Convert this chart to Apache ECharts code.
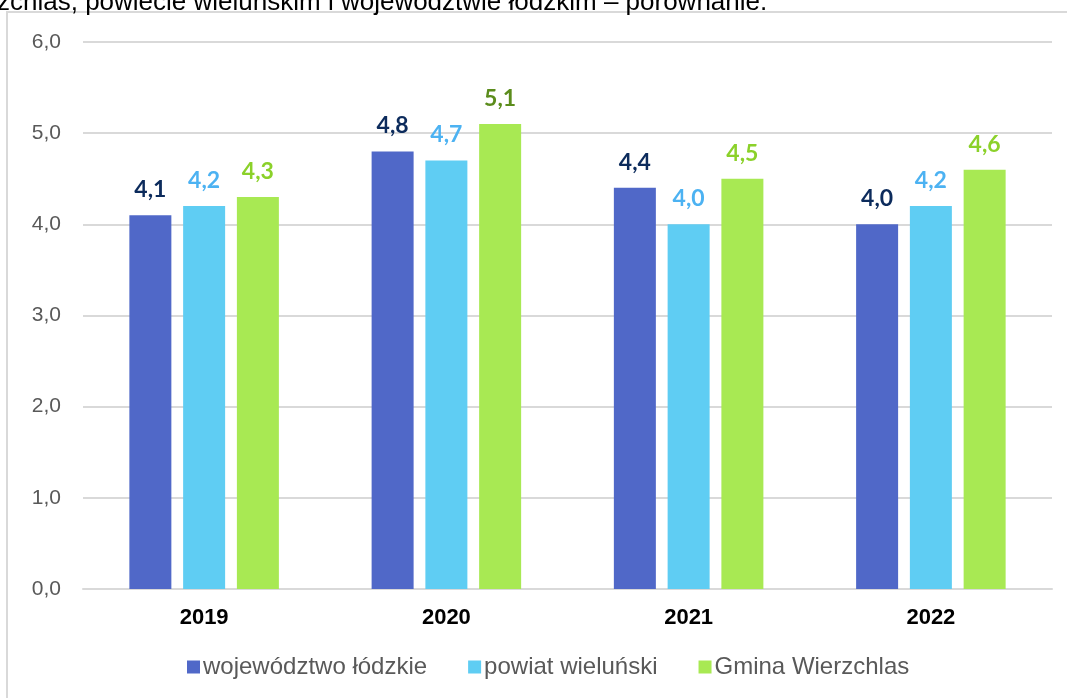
<!DOCTYPE html>
<html>
<head>
<meta charset="utf-8">
<script src="https://cdn.jsdelivr.net/npm/echarts@6/dist/echarts.min.js"></script>
<style>html,body{margin:0;padding:0;background:#fff;}#c{width:1067px;height:698px;}</style>
</head>
<body>
<div id="c"></div>
<script>
const caption = 'zchlas, powiecie wieluńskim i województwie łódzkim – porównanie.';
const categories = ['2019', '2020', '2021', '2022'];
const seriesNames = ['województwo łódzkie', 'powiat wieluński', 'Gmina Wierzchlas'];
const wojewodztwo = [4.1, 4.8, 4.4, 4.0];
const powiat = [4.2, 4.7, 4.0, 4.2];
const gmina = [4.3, 5.1, 4.5, 4.6];
const yTicks = [0, 1, 2, 3, 4, 5, 6];

const barColors = ['#5068c8', '#5fcdf3', '#a8e953'];
const labelColors = [
  ['#0c2b5c', '#0c2b5c', '#0c2b5c', '#0c2b5c'],
  ['#4cb2f2', '#4cb2f2', '#4cb2f2', '#4cb2f2'],
  ['#8bd12a', '#5b8c1c', '#8bd12a', '#8bd12a']
];
const values = [wojewodztwo, powiat, gmina];

const fmt = v => v.toFixed(1).replace('.', ',');

const chart = echarts.init(document.getElementById('c'));
chart.setOption({
  animation: false,
  backgroundColor: '#fff',
  graphic: [
    { type: 'rect', shape: { x: 7, y: 12, width: 1100, height: 720 }, style: { fill: 'none', stroke: '#d9d9d9', lineWidth: 2 } },
    { type: 'text', x: -3, y: 16, z: 10, style: { text: caption, font: '26px "Liberation Sans", Arial, sans-serif', fill: '#000', verticalAlign: 'bottom' } }
  ],
  grid: { left: 83, right: 15, top: 42, bottom: 109, containLabel: false },
  legend: {
    bottom: 14, left: 182,
    itemWidth: 13, itemHeight: 13, itemGap: 41, icon: 'rect',
    textStyle: { fontFamily: '"Liberation Sans", Arial, sans-serif', fontSize: 24, color: '#595959', padding: [0, 0, 0, -2] },
    data: seriesNames
  },
  xAxis: {
    type: 'category', data: categories,
    axisLine: { lineStyle: { color: '#d9d9d9', width: 2 } },
    axisTick: { show: false },
    axisLabel: { fontFamily: '"Liberation Sans", Arial, sans-serif', fontWeight: 'bold', fontSize: 22, color: '#000', margin: 18 }
  },
  yAxis: {
    type: 'value', min: yTicks[0], max: yTicks[yTicks.length - 1], interval: 1,
    axisLine: { show: false }, axisTick: { show: false },
    splitLine: { lineStyle: { color: '#d9d9d9', width: 2 } },
    axisLabel: { formatter: v => fmt(v), fontFamily: '"Liberation Sans", Arial, sans-serif', fontSize: 21, color: '#595959', margin: 22 }
  },
  series: seriesNames.map((name, i) => ({
    name, type: 'bar', barWidth: 42, barGap: '28%',
    itemStyle: { color: barColors[i] },
    data: values[i].map((v, j) => ({
      value: v,
      label: { color: labelColors[i][j] }
    })),
    label: {
      show: true, position: 'top', distance: 14,
      formatter: p => fmt(p.value),
      fontFamily: 'Lato, "Open Sans", sans-serif', fontWeight: 'bold', fontSize: 23
    }
  }))
});
</script>
</body>
</html>
